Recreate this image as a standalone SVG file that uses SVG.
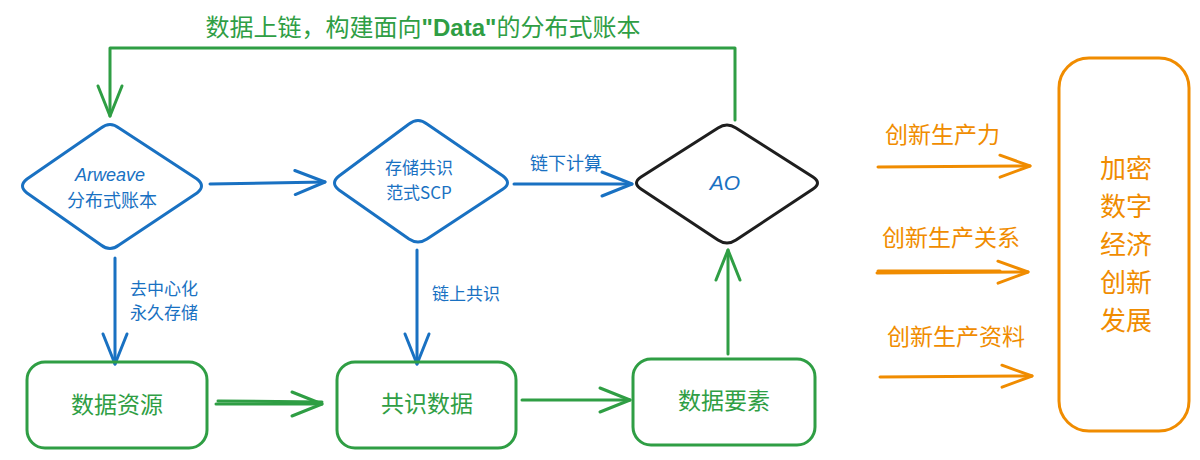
<svg xmlns="http://www.w3.org/2000/svg" width="1200" height="460" viewBox="0 0 1200 460">
<defs>
<style>
text{font-family:"Noto Sans CJK SC","Liberation Sans",sans-serif;}
.g{fill:#2f9e44}.b{fill:#1971c2}.o{fill:#f08c00}
.sg{stroke:#2f9e44;fill:none;stroke-width:3;stroke-linecap:round;stroke-linejoin:round}
.sb{stroke:#1971c2;fill:none;stroke-width:3;stroke-linecap:round;stroke-linejoin:round}
.so{stroke:#f08c00;fill:none;stroke-width:3;stroke-linecap:round;stroke-linejoin:round}
.sk{stroke:#1e1e1e;fill:none;stroke-width:3;stroke-linecap:round;stroke-linejoin:round}
.lat{font-family:"Liberation Sans",sans-serif;font-style:italic}
</style>
<marker id="ag" markerUnits="userSpaceOnUse" markerWidth="40" markerHeight="40" viewBox="-34 -20 40 40" refX="0" refY="0" orient="auto"><path d="M-30,-12 L0,0 L-30,12" fill="none" stroke="#2f9e44" stroke-width="3" stroke-linecap="round" stroke-linejoin="round"/></marker>
<marker id="ab" markerUnits="userSpaceOnUse" markerWidth="40" markerHeight="40" viewBox="-34 -20 40 40" refX="0" refY="0" orient="auto"><path d="M-30,-12 L0,0 L-30,12" fill="none" stroke="#1971c2" stroke-width="3" stroke-linecap="round" stroke-linejoin="round"/></marker>
<marker id="ao" markerUnits="userSpaceOnUse" markerWidth="40" markerHeight="40" viewBox="-34 -20 40 40" refX="0" refY="0" orient="auto"><path d="M-30,-11 L0,0 L-30,11" fill="none" stroke="#f08c00" stroke-width="3" stroke-linecap="round" stroke-linejoin="round"/></marker>
</defs>
<rect width="1200" height="460" fill="#ffffff"/>

<text class="g" x="423" y="36" font-size="24" text-anchor="middle">数据上链，构建面向<tspan font-family="Liberation Sans, sans-serif" font-weight="bold">"Data"</tspan>的分布式账本</text>

<g id="connectors">
<path class="sg" d="M735,120 L735,48 L110,48 L110,116" marker-end="url(#ag)"/>
<path class="sb" d="M210,184 L325,182" marker-end="url(#ab)"/>
<path class="sb" d="M514,184 L632,184" marker-end="url(#ab)"/>
<text class="b" x="566" y="170" font-size="18" text-anchor="middle">链下计算</text>
<path class="sb" d="M115,258 L115,364" marker-end="url(#ab)"/>
<text class="b" x="130" y="295" font-size="17">去中心化</text>
<text class="b" x="130" y="319" font-size="17">永久存储</text>
<path class="sb" d="M417,250 L417,364" marker-end="url(#ab)"/>
<text class="b" x="432" y="300" font-size="17">链上共识</text>
<path class="sg" d="M216,404 L322,404" marker-end="url(#ag)"/>
<path class="sg" d="M218,401 L322,402" />
<path class="sg" d="M522,400 L630,400" marker-end="url(#ag)"/>
<path class="sg" d="M728,354 L728,250" marker-end="url(#ag)"/>
<text class="o" x="885" y="143" font-size="23">创新生产力</text>
<path class="so" d="M878,167 L1030,166" marker-end="url(#ao)"/>
<text class="o" x="882" y="246" font-size="23">创新生产关系</text>
<path class="so" d="M877,273 L1028,272" marker-end="url(#ao)"/>
<path class="so" d="M878,271 L1000,271"/>
<text class="o" x="887" y="345" font-size="23">创新生产资料</text>
<path class="so" d="M880,377 L1032,376" marker-end="url(#ao)"/>
</g>

<g id="node-arweave">
<path class="sb" d="M101,128 L27,179 Q18,186 27,193 L101,245 Q110,252 119,245 L197,193 Q206,186 197,179 L119,128 Q110,121 101,128 Z"/>
<text class="b lat" x="110" y="181" font-size="18" text-anchor="middle">Arweave</text>
<text class="b" x="112" y="207" font-size="18" text-anchor="middle">分布式账本</text>
</g>

<g id="node-scp">
<path class="sb" d="M409,124 L339,176 Q330,183 339,190 L409,239 Q418,245 427,239 L503,189 Q512,183 503,176 L427,124 Q418,117 409,124 Z"/>
<text class="b" x="419" y="174" font-size="17" text-anchor="middle">存储共识</text>
<text class="b" x="419" y="199" font-size="17" text-anchor="middle">范式SCP</text>
</g>

<g id="node-ao">
<path class="sk" d="M718,128 L641,177 Q632,183 641,189 L718,240 Q727,246 736,240 L813,189 Q822,183 813,177 L736,128 Q727,122 718,128 Z"/>
<text class="b lat" x="725" y="190" font-size="21" text-anchor="middle">AO</text>
</g>

<g id="node-data-resource">
<rect class="sg" x="27" y="362" width="180" height="86" rx="18"/>
<text class="g" x="117" y="413" font-size="23" text-anchor="middle">数据资源</text>
</g>

<g id="node-consensus-data">
<rect class="sg" x="337" y="362" width="179" height="86" rx="18"/>
<text class="g" x="427" y="412" font-size="23" text-anchor="middle">共识数据</text>
</g>

<g id="node-data-element">
<rect class="sg" x="633" y="359" width="182" height="86" rx="18"/>
<text class="g" x="724" y="409" font-size="23" text-anchor="middle">数据要素</text>
</g>

<g id="node-crypto-economy">
<rect class="so" x="1059" y="58" width="130" height="373" rx="30"/>
<text class="o" x="1126" y="178" font-size="26" text-anchor="middle">加密</text>
<text class="o" x="1126" y="216" font-size="26" text-anchor="middle">数字</text>
<text class="o" x="1126" y="254" font-size="26" text-anchor="middle">经济</text>
<text class="o" x="1126" y="292" font-size="26" text-anchor="middle">创新</text>
<text class="o" x="1126" y="330" font-size="26" text-anchor="middle">发展</text>
</g>
</svg>
